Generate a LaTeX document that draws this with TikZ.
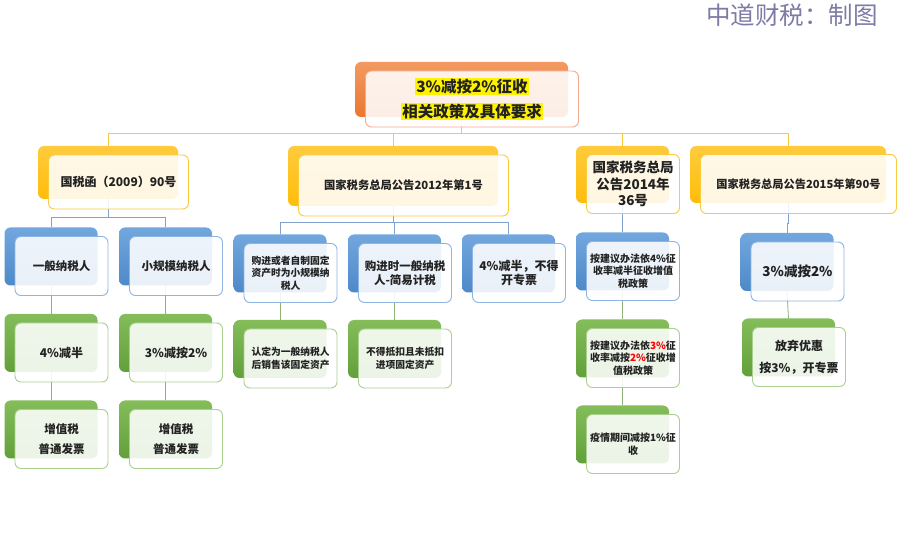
\documentclass[tikz,border=0pt]{standalone}
\usepackage{fontspec}
\setmainfont{Noto Sans CJK SC}
\usepackage{xcolor}
\usepackage{tikz}
\usetikzlibrary{
  positioning
}
\setlength{\fboxsep}{1pt}
\newcommand{\zdhl}[1]{\colorbox{yellow}{#1}}
\definecolor{zdOrangeTop}{HTML}{F29A62}
\definecolor{zdOrangeBot}{HTML}{EC7630}
\definecolor{zdOrangeLine}{HTML}{F2A98C}
\definecolor{zdGoldTop}{HTML}{FFCB3D}
\definecolor{zdGoldBot}{HTML}{FFBD0A}
\definecolor{zdGoldLine}{HTML}{F9CB3C}
\definecolor{zdBlueTop}{HTML}{72A7DE}
\definecolor{zdBlueBot}{HTML}{4E89C8}
\definecolor{zdBlueLine}{HTML}{8EB4E3}
\definecolor{zdGreenTop}{HTML}{84BD5A}
\definecolor{zdGreenBot}{HTML}{62A03A}
\definecolor{zdGreenLine}{HTML}{A9D08E}
\definecolor{zdText}{HTML}{222222}
\definecolor{zdMark}{HTML}{7E7CA6}
\tikzset{
  zdback/.style={
    rounded corners=6pt, minimum width=93pt, minimum height=58pt, inner sep=0pt
  },
  zdcard/.style={
    draw, rounded corners=6pt, fill=white, fill opacity=0.88, text opacity=1,
    line width=0.9pt, minimum width=93pt, minimum height=59pt, inner sep=1pt,
    align=center, text=zdText, font=\bfseries\fontsize{11.5}{14}\selectfont
  },
  lift/.style={on grid, below right=9.5pt and 10.5pt of #1},
  orangeback/.style={zdback, top color=zdOrangeTop, bottom color=zdOrangeBot},
  goldback/.style={zdback, top color=zdGoldTop, bottom color=zdGoldBot},
  blueback/.style={zdback, top color=zdBlueTop, bottom color=zdBlueBot},
  greenback/.style={zdback, top color=zdGreenTop, bottom color=zdGreenBot},
  orangecard/.style={zdcard, draw=zdOrangeLine},
  goldcard/.style={zdcard, draw=zdGoldLine},
  bluecard/.style={zdcard, draw=zdBlueLine},
  greencard/.style={zdcard, draw=zdGreenLine},
  toplink/.style={draw=zdGoldLine, line width=0.8pt},
  bluelink/.style={draw=zdBlueLine!90!black, line width=0.8pt},
  greenlink/.style={draw=zdGreenLine!85!black, line width=0.8pt},
  small/.style={font=\bfseries\fontsize{9.75}{12.5}\selectfont},
  midsize/.style={font=\bfseries\fontsize{10}{12.5}\selectfont}
}

\begin{document}
\begin{tikzpicture}[x=1pt, y=-1pt]
  \useasboundingbox (0,0) rectangle (900,534);
  \fill[white] (0,0) rectangle (900,534);
  \node[font=\fontsize{24.5}{26}\selectfont, text=zdMark] (mark) at (792,15) {中道财税：制图};

  % shadow boxes
  \node[orangeback, minimum width=213pt, minimum height=55pt] (topb) at (461.5,89.5) {};
  \node[goldback, minimum width=140pt, minimum height=53pt] (g1b) at (108,172.5) {};
  \node[goldback, minimum width=210pt, minimum height=60pt] (g2b) at (393,176) {};
  \node[goldback, minimum width=93pt, minimum height=57pt] (g3b) at (622.5,174.5) {};
  \node[goldback, minimum width=196pt, minimum height=57pt] (g4b) at (788,174.5) {};
  \node[blueback] (k1b) at (51,256.5) {};
  \node[blueback] (k2b) at (165.5,256.5) {};
  \node[greenback] (k3b) at (51,343) {};
  \node[greenback] (k4b) at (165.5,343) {};
  \node[greenback] (k5b) at (51,429.5) {};
  \node[greenback] (k6b) at (165.5,429.5) {};
  \node[blueback] (m1b) at (280,263.5) {};
  \node[blueback] (m2b) at (394.5,263.5) {};
  \node[blueback] (m3b) at (508.5,263.5) {};
  \node[greenback] (m4b) at (280,349) {};
  \node[greenback] (m5b) at (394.5,349) {};
  \node[blueback] (n1b) at (622.5,261.5) {};
  \node[greenback] (n2b) at (622.5,348.5) {};
  \node[greenback] (n3b) at (622.5,434.5) {};
  \node[blueback] (p1b) at (787,262) {};
  \node[greenback] (p2b) at (788.5,347.5) {};

  % links
  \draw[toplink] (topb.south) -- ++(0,16) -| (g1b.north);
  \draw[toplink] (topb.south) -- ++(0,16) -| (g2b.north);
  \draw[toplink] (topb.south) -- ++(0,16) -| (g3b.north);
  \draw[toplink] (topb.south) -- ++(0,16) -| (g4b.north);
  \draw[bluelink] (g1b.south) -- ++(0,18) -| (k1b.north);
  \draw[bluelink] (g1b.south) -- ++(0,18) -| (k2b.north);
  \draw[bluelink] (g2b.south) -- ++(0,16) -| (m1b.north);
  \draw[bluelink] (g2b.south) -- ++(0,16) -| (m2b.north);
  \draw[bluelink] (g2b.south) -- ++(0,16) -| (m3b.north);
  \draw[bluelink] (g3b.south) -- (n1b.north);
  \draw[bluelink] (g4b.south) -- ++(0,20) -| (p1b.north);
  \draw[greenlink] (k1b.south) -- (k3b.north);
  \draw[greenlink] (k2b.south) -- (k4b.north);
  \draw[greenlink] (k3b.south) -- (k5b.north);
  \draw[greenlink] (k4b.south) -- (k6b.north);
  \draw[greenlink] (m1b.south) -- (m4b.north);
  \draw[greenlink] (m2b.south) -- (m5b.north);
  \draw[greenlink] (n1b.south) -- (n2b.north);
  \draw[greenlink] (n2b.south) -- (n3b.north);
  \draw[greenlink] (p1b.south) -- (p2b.north);

  % cards
  \node[orangecard, minimum width=213pt, minimum height=56pt,
    font=\bfseries\fontsize{15.5}{25}\selectfont, lift=topb] (top)
    {\zdhl{3\%减按2\%征收}\\\zdhl{相关政策及具体要求}};
  \node[goldcard, minimum width=140pt, minimum height=54pt,
    font=\bfseries\fontsize{12}{14}\selectfont, lift=g1b] (g1) {国税函（2009）90号};
  \node[goldcard, minimum width=210pt, minimum height=61pt,
    font=\bfseries\fontsize{11.3}{14}\selectfont, lift=g2b] (g2) {国家税务总局公告2012年第1号};
  \node[goldcard, minimum width=93pt, minimum height=59pt,
    font=\bfseries\fontsize{13.5}{16.5}\selectfont, lift=g3b] (g3) {国家税务总局\\公告2014年\\36号};
  \node[goldcard, minimum width=196pt, minimum height=59pt,
    font=\bfseries\fontsize{11.2}{14}\selectfont, lift=g4b] (g4) {国家税务总局公告2015年第90号};
  \node[bluecard, lift=k1b] (k1) {一般纳税人};
  \node[bluecard, lift=k2b] (k2) {小规模纳税人};
  \node[greencard, font=\bfseries\fontsize{12}{14}\selectfont, lift=k3b] (k3) {4\%减半};
  \node[greencard, font=\bfseries\fontsize{12}{14}\selectfont, lift=k4b] (k4) {3\%减按2\%};
  \node[greencard, font=\bfseries\fontsize{11.5}{20}\selectfont, lift=k5b] (k5) {增值税\\普通发票};
  \node[greencard, font=\bfseries\fontsize{11.5}{20}\selectfont, lift=k6b] (k6) {增值税\\普通发票};
  \node[bluecard, small, lift=m1b] (m1) {购进或者自制固定\\资产时为小规模纳\\税人};
  \node[bluecard, lift=m2b] (m2) {购进时一般纳税\\人-简易计税};
  \node[bluecard, font=\bfseries\fontsize{12}{14}\selectfont, lift=m3b] (m3) {4\%减半，不得\\开专票};
  \node[greencard, small, lift=m4b] (m4) {认定为一般纳税人\\后销售该固定资产};
  \node[greencard, small, lift=m5b] (m5) {不得抵扣且未抵扣\\进项固定资产};
  \node[bluecard, midsize, lift=n1b] (n1) {按建议办法依4\%征\\收率减半征收增值\\税政策};
  \node[greencard, midsize, lift=n2b] (n2)
    {按建议办法依{\color{red}3\%}征\\收率减按{\color{red}2\%}征收增\\值税政策};
  \node[greencard, midsize, lift=n3b] (n3) {疫情期间减按1\%征\\收};
  \node[bluecard, font=\bfseries\fontsize{13.5}{16}\selectfont, lift=p1b] (p1) {3\%减按2\%};
  \node[greencard, font=\bfseries\fontsize{12}{22}\selectfont, lift=p2b] (p2) {放弃优惠\\按3\%，开专票};
\end{tikzpicture}
\end{document}
